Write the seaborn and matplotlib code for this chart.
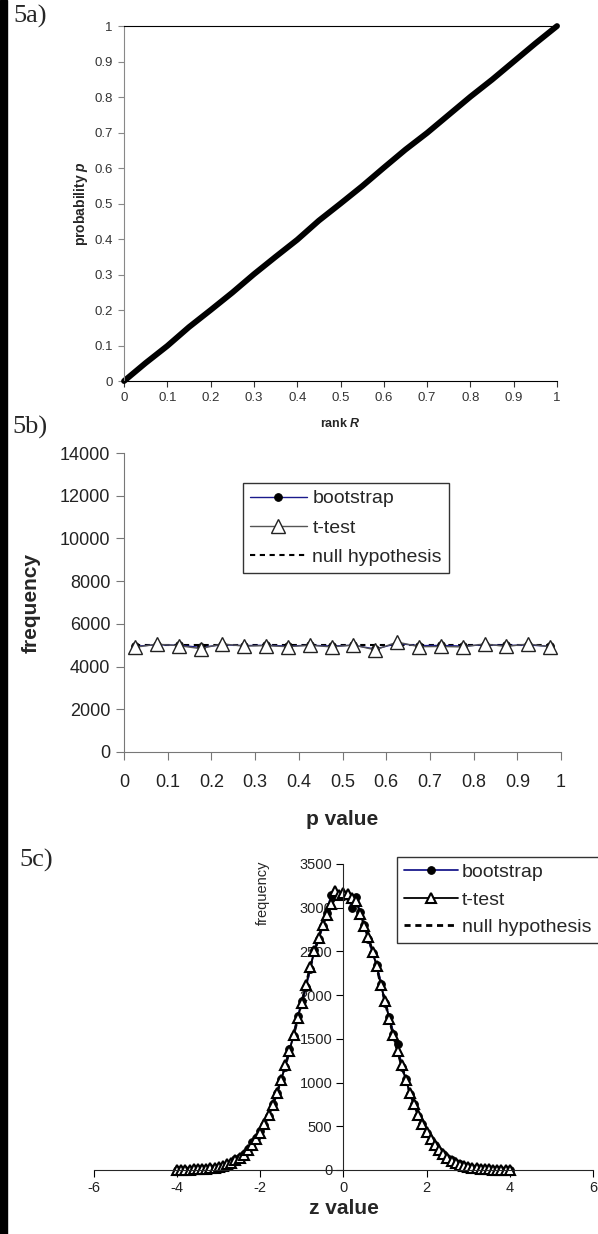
import matplotlib
matplotlib.use("Agg")
import matplotlib.pyplot as plt
import seaborn as sns
from matplotlib.patches import Rectangle
from matplotlib.ticker import FixedLocator, FixedFormatter

# panel a: rank R vs probability p
rank_a = [0.0, 0.05, 0.1, 0.15, 0.2, 0.25, 0.3, 0.35, 0.4, 0.45, 0.5,
          0.55, 0.6, 0.65, 0.7, 0.75, 0.8, 0.85, 0.9, 0.95, 1.0]
prob_a = [0.0, 0.051, 0.099, 0.152, 0.2, 0.249, 0.301, 0.35, 0.398, 0.452, 0.5,
          0.549, 0.601, 0.652, 0.699, 0.75, 0.801, 0.849, 0.9, 0.951, 1.0]
ticks_01 = [0, 0.1, 0.2, 0.3, 0.4, 0.5, 0.6, 0.7, 0.8, 0.9, 1]
ticklabels_01 = ["0", "0.1", "0.2", "0.3", "0.4", "0.5", "0.6", "0.7", "0.8", "0.9", "1"]

# panel b: p value histogram
p_bins = [0.025, 0.075, 0.125, 0.175, 0.225, 0.275, 0.325, 0.375, 0.425, 0.475,
          0.525, 0.575, 0.625, 0.675, 0.725, 0.775, 0.825, 0.875, 0.925, 0.975]
boot_b = [4950, 5020, 5000, 4900, 5020, 4980, 5000, 4960, 5000, 4960,
          5000, 4820, 5080, 4980, 4990, 4960, 5020, 4990, 5010, 4950]
ttest_b = [4900, 5050, 4980, 4840, 5060, 4960, 4980, 4930, 5000, 4920,
           5010, 4780, 5150, 4930, 4940, 4920, 5060, 4940, 5060, 4920]
null_b = [5000, 5000, 5000, 5000, 5000, 5000, 5000, 5000, 5000, 5000,
          5000, 5000, 5000, 5000, 5000, 5000, 5000, 5000, 5000, 5000]

# panel c: z value histogram
z_c = [-4.0, -3.9, -3.8, -3.7, -3.6, -3.5, -3.4, -3.3, -3.2, -3.1,
       -3.0, -2.9, -2.8, -2.7, -2.6, -2.5, -2.4, -2.3, -2.2, -2.1,
       -2.0, -1.9, -1.8, -1.7, -1.6, -1.5, -1.4, -1.3, -1.2, -1.1,
       -1.0, -0.9, -0.8, -0.7, -0.6, -0.5, -0.4, -0.3, -0.2, -0.1,
       0.0, 0.1, 0.2, 0.3, 0.4, 0.5, 0.6, 0.7, 0.8, 0.9,
       1.0, 1.1, 1.2, 1.3, 1.4, 1.5, 1.6, 1.7, 1.8, 1.9,
       2.0, 2.1, 2.2, 2.3, 2.4, 2.5, 2.6, 2.7, 2.8, 2.9,
       3.0, 3.1, 3.2, 3.3, 3.4, 3.5, 3.6, 3.7, 3.8, 3.9, 4.0]
boot_c = [2, 3, 3, 5, 6, 8, 10, 15, 20, 26,
          36, 48, 62, 85, 120, 150, 180, 240, 320, 360,
          440, 510, 620, 760, 880, 1040, 1180, 1380, 1530, 1760,
          1930, 2090, 2300, 2520, 2640, 2790, 2940, 3150, 3150, 3140,
          3160, 3130, 3000, 3120, 2950, 2800, 2640, 2480, 2340, 2130,
          1910, 1750, 1560, 1440, 1180, 1040, 870, 760, 620, 530,
          420, 345, 290, 220, 180, 136, 110, 82, 64, 46,
          34, 27, 18, 14, 9, 7, 5, 4, 3, 2, 2]
ttest_c = [2, 2, 3, 4, 6, 8, 11, 14, 19, 27,
           34, 46, 64, 82, 110, 140, 176, 228, 280, 352,
           428, 520, 630, 745, 885, 1025, 1195, 1360, 1545, 1735,
           1915, 2120, 2320, 2500, 2650, 2800, 2920, 3040, 3190, 3150,
           3170, 3160, 3110, 3080, 2930, 2790, 2660, 2490, 2330, 2110,
           1930, 1730, 1540, 1360, 1195, 1030, 880, 750, 625, 520,
           430, 350, 282, 224, 178, 140, 108, 84, 62, 47,
           35, 26, 19, 14, 10, 7, 5, 4, 3, 2, 2]
null_c = [1, 2, 2, 3, 5, 7, 10, 14, 19, 26,
          35, 47, 63, 83, 108, 139, 178, 225, 282, 350,
          429, 521, 627, 747, 881, 1029, 1190, 1362, 1543, 1731,
          1923, 2114, 2323, 2494, 2654, 2798, 2923, 3030, 3107, 3154,
          3170, 3154, 3107, 3030, 2923, 2798, 2654, 2494, 2323, 2114,
          1923, 1731, 1543, 1362, 1190, 1029, 881, 747, 627, 521,
          429, 350, 282, 225, 178, 139, 108, 83, 63, 47,
          35, 26, 19, 14, 10, 7, 5, 3, 2, 2, 1]

sns.set_style("ticks")
plt.rcParams["font.family"] = ["Liberation Sans", "DejaVu Sans"]
plt.rcParams["axes.unicode_minus"] = False
plt.rcParams["mathtext.fontset"] = "custom"
plt.rcParams["mathtext.it"] = "Liberation Sans:italic:bold"

fig = plt.figure(figsize=(5.98, 12.34), dpi=100)
fig.add_artist(Rectangle((0, 0), 7 / 598, 1, transform=fig.transFigure,
                         color="black", zorder=10))


def boxed_legend(ax, anchor, fs, hl, ls, htp):
    h, l = ax.get_legend_handles_labels()
    order = [l.index("bootstrap"), l.index("t-test"), l.index("null hypothesis")]
    leg = ax.legend([h[i] for i in order], [l[i] for i in order],
                    loc="upper left", bbox_to_anchor=anchor, mode="expand",
                    fontsize=fs, handlelength=hl, handletextpad=htp,
                    labelspacing=ls, borderpad=0.35, borderaxespad=0,
                    fancybox=False, frameon=True)
    leg.get_frame().set_edgecolor("black")
    leg.get_frame().set_linewidth(1.0)
    return leg


# ---------- 5a ----------
ax_a = fig.add_axes([0.2074, 0.6912, 0.7241, 0.2877])
sns.lineplot(x=rank_a, y=prob_a, ax=ax_a, color="black", lw=4.2,
             sort=False, clip_on=False)
ax_a.set_xlim(0, 1)
ax_a.set_ylim(0, 1)
for axis in (ax_a.xaxis, ax_a.yaxis):
    axis.set_major_locator(FixedLocator(ticks_01))
    axis.set_major_formatter(FixedFormatter(ticklabels_01))
ax_a.tick_params(labelsize=9.5, length=4, width=0.8, pad=4, colors="#333333")
ax_a.tick_params(axis="y", color="#888888")
ax_a.spines["right"].set_visible(False)
ax_a.spines["left"].set_color("#888888")
ax_a.spines["top"].set_color("black")
ax_a.spines["bottom"].set_color("black")
ax_a.set_xlabel(r"rank $R$", fontsize=9, fontweight="bold")
ax_a.set_ylabel(r"probability $p$", fontsize=10, fontweight="bold")
ax_a.xaxis.set_label_coords(0.5, -0.102)
ax_a.yaxis.set_label_coords(-0.078, 0.5)

# ---------- 5b ----------
ax_b = fig.add_axes([0.2074, 0.3906, 0.7308, 0.2423])
sns.lineplot(x=p_bins, y=null_b, ax=ax_b, color="black", lw=1.5,
             linestyle=(0, (2.5, 2.2)), label="null hypothesis", sort=False)
sns.lineplot(x=p_bins, y=boot_b, ax=ax_b, color="#1a1a8c", lw=1.0,
             marker="o", markersize=5.5, markerfacecolor="black",
             markeredgecolor="black", label="bootstrap", sort=False)
sns.lineplot(x=p_bins, y=ttest_b, ax=ax_b, color="#555555", lw=1.0,
             marker="^", markersize=9.5, markerfacecolor="white",
             markeredgecolor="#222222", markeredgewidth=1.0,
             label="t-test", sort=False)
ax_b.set_xlim(0, 1)
ax_b.set_ylim(0, 14000)
ax_b.xaxis.set_major_locator(FixedLocator(ticks_01))
ax_b.xaxis.set_major_formatter(FixedFormatter(ticklabels_01))
ax_b.set_yticks([0, 2000, 4000, 6000, 8000, 10000, 12000, 14000])
ax_b.tick_params(labelsize=13, length=6, width=0.8,
                 color="#777777", labelcolor="#222222")
ax_b.tick_params(axis="x", pad=10)
ax_b.tick_params(axis="y", pad=4)
sns.despine(ax=ax_b)
ax_b.spines["left"].set_color("#777777")
ax_b.spines["bottom"].set_color("#777777")
ax_b.set_xlabel("p value", fontsize=15, fontweight="bold")
ax_b.set_ylabel("frequency", fontsize=15, fontweight="bold")
ax_b.xaxis.set_label_coords(0.5, -0.195)
ax_b.yaxis.set_label_coords(-0.19, 0.5)
boxed_legend(ax_b, (0.273, 0.9, 0.470, 0.0), 14, 2.9, 0.6, 0.3)

# ---------- 5c ----------
ax_c = fig.add_axes([0.1572, 0.0519, 0.8344, 0.2480])
sns.lineplot(x=z_c, y=null_c, ax=ax_c, color="black", lw=2.0,
             linestyle=(0, (2.2, 1.7)), label="null hypothesis", sort=False)
sns.lineplot(x=z_c, y=boot_c, ax=ax_c, color="#1a1a8c", lw=1.3,
             marker="o", markersize=5.5, markerfacecolor="black",
             markeredgecolor="black", label="bootstrap", sort=False,
             clip_on=False)
sns.lineplot(x=z_c, y=ttest_c, ax=ax_c, color="black", lw=1.3,
             marker="^", markersize=6.5, markerfacecolor="white",
             markeredgecolor="black", markeredgewidth=1.5,
             label="t-test", sort=False, clip_on=False)
ax_c.set_xlim(-6, 6)
ax_c.set_ylim(0, 3500)
ax_c.set_xticks([-6, -4, -2, 0, 2, 4, 6])
ax_c.set_yticks([0, 500, 1000, 1500, 2000, 2500, 3000, 3500])
ax_c.spines["left"].set_position(("data", 0))
ax_c.spines["right"].set_visible(False)
ax_c.spines["top"].set_visible(False)
ax_c.tick_params(labelsize=10.5, length=5, width=0.8, pad=3,
                 color="black", labelcolor="#222222")
ax_c.set_xlabel("z value", fontsize=15, fontweight="bold")
ax_c.set_ylabel("frequency", fontsize=10.5)
ax_c.xaxis.set_label_coords(0.5, -0.095)
ax_c.yaxis.set_label_coords(0.352, 0.905)
boxed_legend(ax_c, (0.607, 1.023, 0.41, 0.0), 14, 2.8, 0.5, 0.2)

# panel labels
serif = ["Liberation Serif", "DejaVu Serif"]
fig.text(13 / 598, 1 - 5 / 1234, "5a)", va="top", ha="left", fontsize=19, family=serif)
fig.text(12 / 598, 1 - 416 / 1234, "5b)", va="top", ha="left", fontsize=19, family=serif)
fig.text(19 / 598, 1 - 849 / 1234, "5c)", va="top", ha="left", fontsize=19, family=serif)

fig.savefig("out.png", dpi=100)
